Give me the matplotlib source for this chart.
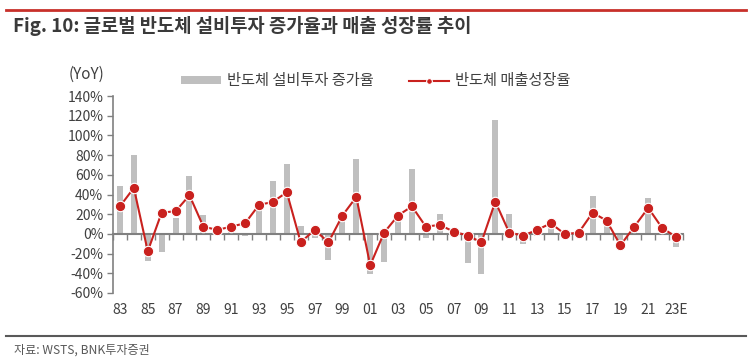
import matplotlib
matplotlib.use("Agg")
import matplotlib.pyplot as plt
from matplotlib.lines import Line2D
import numpy as np

plt.rcParams['font.family'] = ['Noto Sans CJK KR', 'DejaVu Sans']
plt.rcParams['axes.unicode_minus'] = False

years = ['83', '84', '85', '86', '87', '88', '89', '90', '91', '92', '93', '94', '95', '96',
         '97', '98', '99', '00', '01', '02', '03', '04', '05', '06', '07', '08', '09', '10',
         '11', '12', '13', '14', '15', '16', '17', '18', '19', '20', '21', '22', '23E']
capex_growth = [49, 80.5, -27.8, -18.7, 16.2, 58.5, 19.6, 2, 4, -2.4, 28, 54, 71.4, 8.4,
                -4.5, -26.4, 14, 76.1, -40.6, -28.1, 12.8, 66.3, -4.5, 20.6, 0.5, -29.4, -40.6, 115.3,
                20.6, -10.5, -2, 6, -1, 0.5, 38, 13, -6, 5, 36.7, 6, -13.6]
sales_growth = [28, 46.7, -17.6, 21.6, 23, 39.2, 7.4, 4, 7.4, 10.8, 29.4, 32.5, 42.3, -8.5,
                4, -8.5, 18.6, 37.5, -31.9, 1.3, 18.6, 28, 7.4, 9.1, 2.4, -1.7, -8.5, 32.8,
                1.3, -1.7, 4, 10.8, -0.3, 1.3, 21.6, 13.5, -11.6, 7.4, 26.4, 6, -3]
yticks = [-60, -40, -20, 0, 20, 40, 60, 80, 100, 120, 140]
xlabel_years = years[::2]

W, H = 753, 361
fig = plt.figure(figsize=(W / 100, H / 100), dpi=100)

ax = fig.add_axes([113 / W, 1 - 293 / H, 570 / W, 197 / H])
x = np.arange(len(years))
bar_c = '#BFBFBF'
red = '#C9211E'
axis_c = '#808080'
text_c = '#404040'

bars = ax.bar(x, capex_growth, width=0.43, color=bar_c, zorder=2, label='반도체 설비투자 증가율')
line, = ax.plot(x, sales_growth, color=red, lw=1.5, marker='o', markersize=7.5,
                markerfacecolor=red, markeredgecolor='white', markeredgewidth=0.8,
                zorder=3, label='반도체 매출성장율')

ax.set_xlim(-0.5, len(years) - 0.5)
ax.set_ylim(-60, 140)
ax.set_yticks(yticks)
ax.set_yticklabels([f'{v}%' for v in yticks])
ax.tick_params(axis='y', direction='out', length=4, width=1, color=axis_c,
               labelcolor=text_c, labelsize=10, pad=3)

for s in ['top', 'right']:
    ax.spines[s].set_visible(False)
ax.spines['left'].set_color(axis_c)
ax.spines['left'].set_linewidth(1.2)
ax.spines['bottom'].set_position(('data', 0))
ax.spines['bottom'].set_color(axis_c)
ax.spines['bottom'].set_linewidth(1.5)
ax.spines['bottom'].set_zorder(2.5)

ax.set_xticks([])
ax.set_xticks(np.arange(-0.5, len(years), 1), minor=True)
ax.tick_params(axis='x', which='minor', direction='out', length=4, width=1, color=axis_c)

sec = ax.secondary_xaxis('bottom')
sec.set_xticks(x[::2], xlabel_years)
sec.tick_params(length=0, pad=7.5, labelsize=10, labelcolor=text_c)
sec.spines['bottom'].set_visible(False)

ax.patch.set_visible(False)

# (YoY)
fig.text(86 / W, 1 - 74 / H, '(YoY)', ha='center', va='center', fontsize=11, color=text_c)

# legend
leg = fig.legend(handles=[bars, line], loc='center left',
                 bbox_to_anchor=(181 / W, 1 - 81 / H), bbox_transform=fig.transFigure,
                 ncol=2, frameon=False, fontsize=11, handlelength=2.6, handleheight=0.4,
                 handletextpad=0.4, columnspacing=2.35, borderpad=0, borderaxespad=0,
                 markerscale=0.55, labelcolor=text_c)

# title and decorative lines
fig.add_artist(Line2D([6 / W, 746 / W], [1 - 10 / H, 1 - 10 / H], color='#C8302A', lw=2,
                      transform=fig.transFigure))
fig.text(13 / W, 1 - 26 / H, 'Fig. 10: 글로벌 반도체 설비투자 증가율과 매출 성장률 추이',
         ha='left', va='center', fontsize=13.5, fontweight='bold', color='#3A3A3A')
fig.add_artist(Line2D([6 / W, 746 / W], [1 - 336 / H, 1 - 336 / H], color='#595959', lw=1.5,
                      transform=fig.transFigure))
fig.text(14 / W, 1 - 350 / H, '자료: WSTS, BNK투자증권', ha='left', va='center',
         fontsize=8.7, style='italic', color='#595959')

fig.savefig('out.png', dpi=100)
